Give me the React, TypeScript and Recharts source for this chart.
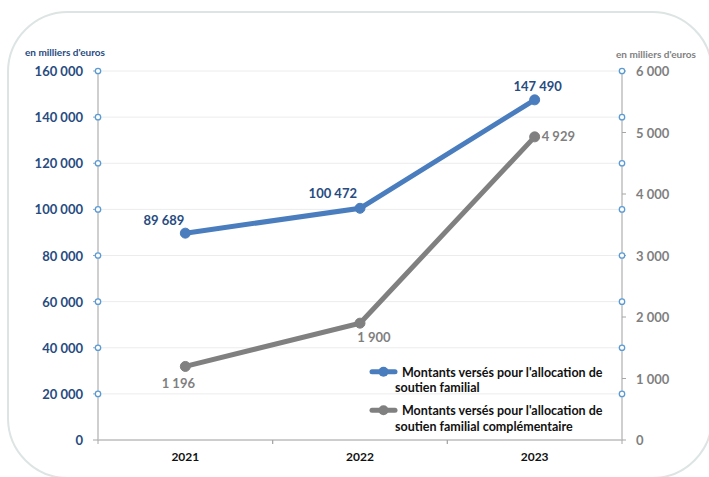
import React from "react";
import {
  ComposedChart,
  Line,
  XAxis,
  YAxis,
  CartesianGrid,
  LabelList,
  Legend,
} from "recharts";

const years = ["2021", "2022", "2023"];
const asfValues = [89689, 100472, 147490];
const asfcValues = [1196, 1900, 4929];
const leftTicks = [0, 20000, 40000, 60000, 80000, 100000, 120000, 140000, 160000];
const rightTicks = [0, 1000, 2000, 3000, 4000, 5000, 6000];
const seriesNames = [
  "Montants versés pour l'allocation de soutien familial",
  "Montants versés pour l'allocation de soutien familial complémentaire",
];
const unitLabel = "en milliers d'euros";

const data = years.map((y, i) => ({
  year: y,
  asf: asfValues[i],
  asfc: asfcValues[i],
}));

const FONT = "Lato, 'Open Sans', sans-serif";
const BLUE = "#4A7DBE";
const GRAY = "#808080";
const DARKBLUE = "#274B7F";
const GRAYTXT = "#7F7F7F";

const W = 709;
const H = 477;
const PLOT_L = 98;
const PLOT_R = 622;
const PLOT_T = 71;
const PLOT_B = 440;

const fmt = (v: number) => {
  const s = Math.round(v).toString();
  return s.replace(/\B(?=(\d{3})+(?!\d))/g, " ");
};

const LeftTick = (props: any) => {
  const { x, y, payload } = props;
  const v = payload.value;
  return (
    <g>
      <text
        x={x}
        y={y}
        textAnchor="end"
        dominantBaseline="central"
        fill={DARKBLUE}
        fontFamily={FONT}
        fontWeight={700}
        fontSize={13}
      >
        {fmt(v)}
      </text>
      {v !== 0 && (
        <>
          <circle cx={PLOT_L} cy={y} r={2.7} fill="#fff" stroke="#5B9BD5" strokeWidth={1.3} />
          <circle cx={PLOT_R} cy={y} r={2.7} fill="#fff" stroke="#5B9BD5" strokeWidth={1.3} />
        </>
      )}
    </g>
  );
};

const RightTick = (props: any) => {
  const { x, y, payload } = props;
  return (
    <text
      x={x}
      y={y}
      textAnchor="start"
      dominantBaseline="central"
      fill={GRAYTXT}
      fontFamily={FONT}
      fontWeight={700}
      fontSize={13}
    >
      {fmt(payload.value)}
    </text>
  );
};

const BW = (PLOT_R - PLOT_L) / years.length;

const XTick = (props: any) => {
  const { x, payload } = props;
  return (
    <g>
      <line x1={x - BW / 2} y1={PLOT_B} x2={x - BW / 2} y2={PLOT_B + 4} stroke="#A6A6A6" strokeWidth={1} />
      <line x1={x + BW / 2} y1={PLOT_B} x2={x + BW / 2} y2={PLOT_B + 4} stroke="#A6A6A6" strokeWidth={1} />
      <text
        x={x}
        y={PLOT_B + 21}
        textAnchor="middle"
        fill="#111"
        fontFamily={FONT}
        fontWeight={700}
        fontSize={12}
      >
        {payload.value}
      </text>
    </g>
  );
};

const blueLabelPos = [
  { dx: -1, dy: -8, anchor: "end" },
  { dx: -3, dy: -10, anchor: "end" },
  { dx: 3, dy: -9, anchor: "middle" },
];
const grayLabelPos = [
  { dx: -7, dy: 22, anchor: "middle" },
  { dx: 14, dy: 19, anchor: "middle" },
  { dx: 7, dy: 4, anchor: "start" },
];

const makeLabel = (pos: any[], color: string) => (props: any) => {
  const { x, y, value, index } = props;
  const p = pos[index] || { dx: 0, dy: -8, anchor: "middle" };
  return (
    <text
      x={x + p.dx}
      y={y + p.dy}
      textAnchor={p.anchor}
      fill={color}
      fontFamily={FONT}
      fontWeight={700}
      fontSize={13}
    >
      {fmt(value)}
    </text>
  );
};

const wrap = (s: string, max: number) => {
  const words = s.split(" ");
  const lines: string[] = [];
  let cur = "";
  for (const w of words) {
    const next = cur ? cur + " " + w : w;
    if (next.length > max && cur) {
      lines.push(cur);
      cur = w;
    } else cur = next;
  }
  if (cur) lines.push(cur);
  return lines;
};

const LegendContent = (props: any) => {
  const { payload } = props;
  return (
    <svg width={260} height={85} style={{ display: "block", overflow: "visible" }}>
      {(payload || []).map((entry: any, i: number) => {
        const top = i * 38.5;
        const lines = wrap(entry.value, 36);
        return (
          <g key={i}>
            <line x1={12} y1={top + 16.7} x2={35} y2={top + 16.7} stroke={entry.color} strokeWidth={5} strokeLinecap="round" />
            <circle cx={23.5} cy={top + 16.7} r={5} fill={entry.color} />
            {lines.map((ln, j) => (
              <text
                key={j}
                x={j === 0 ? 42 : 35}
                y={top + 21.5 + j * 15.5}
                fill="#111"
                fontFamily={FONT}
                fontWeight={700}
                fontSize={12.5}
              >
                {ln}
              </text>
            ))}
          </g>
        );
      })}
    </svg>
  );
};

export default function App() {
  return (
    <div style={{ position: "absolute", left: 0, top: 0, width: W, height: H, overflow: "hidden", background: "#fff" }}>
      <svg width={W} height={H} style={{ position: "absolute", left: 0, top: 0 }}>
        <rect x={8} y={12} width={704} height={466} rx={60} ry={60} fill="#fff" stroke="#DDE4E4" strokeWidth={2} />
        <text x={25} y={56} fill={DARKBLUE} fontFamily={FONT} fontWeight={700} fontSize={10}>
          {unitLabel}
        </text>
        <text x={616} y={58} fill={GRAYTXT} fontFamily={FONT} fontWeight={700} fontSize={10}>
          {unitLabel}
        </text>
      </svg>
      <div style={{ position: "absolute", left: 0, top: 0 }}>
        <ComposedChart
          width={W}
          height={H}
          data={data}
          margin={{ top: PLOT_T, right: 0, bottom: H - PLOT_B - 30, left: 0 }}
        >
          <CartesianGrid yAxisId="left" horizontal vertical={false} stroke="#ECECEC" strokeWidth={1} />
          <XAxis
            dataKey="year"
            scale="band"
            height={30}
            axisLine={{ stroke: "#A6A6A6", strokeWidth: 1 }}
            tickLine={false}
            tick={<XTick />}
            interval={0}
          />
          <YAxis
            yAxisId="left"
            orientation="left"
            width={PLOT_L}
            domain={[0, 160000]}
            ticks={leftTicks}
            interval={0}
            axisLine={{ stroke: "#BFBFBF", strokeWidth: 1.5 }}
            tickLine={{ stroke: "#A6A6A6" }}
            tickSize={5}
            tickMargin={10}
            tick={<LeftTick />}
          />
          <YAxis
            yAxisId="right"
            orientation="right"
            width={W - PLOT_R}
            domain={[0, 6000]}
            ticks={rightTicks}
            interval={0}
            axisLine={{ stroke: "#BFBFBF", strokeWidth: 1.5 }}
            tickLine={{ stroke: "#A6A6A6" }}
            tickSize={4}
            tickMargin={10}
            tick={<RightTick />}
          />
          <Line
            yAxisId="left"
            dataKey="asf"
            name={seriesNames[0]}
            stroke={BLUE}
            strokeWidth={5}
            dot={{ r: 5, fill: BLUE, stroke: BLUE, strokeWidth: 1 }}
            activeDot={false}
            isAnimationActive={false}
          >
            <LabelList dataKey="asf" content={makeLabel(blueLabelPos, DARKBLUE)} />
          </Line>
          <Line
            yAxisId="right"
            dataKey="asfc"
            name={seriesNames[1]}
            stroke={GRAY}
            strokeWidth={5}
            dot={{ r: 5, fill: GRAY, stroke: GRAY, strokeWidth: 1 }}
            activeDot={false}
            isAnimationActive={false}
          >
            <LabelList dataKey="asfc" content={makeLabel(grayLabelPos, GRAYTXT)} />
          </Line>
          <Legend
            layout="vertical"
            align="center"
            verticalAlign="middle"
            content={<LegendContent />}
            wrapperStyle={{ left: 360, top: 355, width: 260, height: 85 }}
          />
        </ComposedChart>
      </div>
    </div>
  );
}
